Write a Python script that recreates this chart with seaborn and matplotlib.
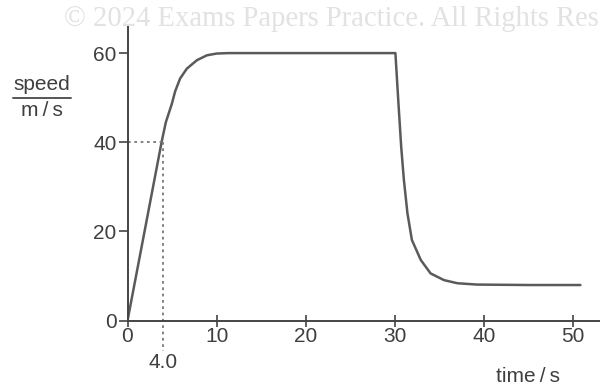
import matplotlib
matplotlib.use("Agg")
import matplotlib.pyplot as plt
import seaborn as sns
import pandas as pd

# Data
time_s = [0.0, 3.84, 4.3, 4.97, 5.34, 5.9, 6.65, 7.78, 8.9, 10.0, 11.3, 20.0, 30.05,
          30.4, 30.7, 31.0, 31.4, 31.9, 32.9, 34.0, 35.5, 37.0, 39.2, 45.0, 50.8]
speed_ms = [0.0, 40.2, 44.5, 48.6, 51.4, 54.3, 56.5, 58.4, 59.5, 59.9, 60.0, 60.0, 60.0,
            48.5, 39.0, 31.6, 24.1, 18.1, 13.6, 10.6, 9.1, 8.4, 8.1, 8.0, 8.0]
x_ticks = [0, 10, 20, 30, 40, 50]
y_ticks = [0, 20, 40, 60]
marked_time = 4.0
marked_speed = 40

df = pd.DataFrame({"time": time_s, "speed": speed_ms})

sns.set_theme(style="white")
plt.rcParams["font.family"] = ["Liberation Sans", "DejaVu Sans"]

TXT = "#3f3f3f"
FS = 15

fig = plt.figure(figsize=(6, 3.87), dpi=100)
ax = fig.add_axes([127.5 / 600, 66.3 / 387, 472.5 / 600, 295.7 / 387])

sns.lineplot(data=df, x="time", y="speed", ax=ax, color="#5a5a5a",
             linewidth=1.8, sort=False)

ax.set_xlim(0, 53)
ax.set_ylim(0, 66.3)
ax.set_xticks(x_ticks)
ax.set_yticks(y_ticks)
ax.set_xlabel("")
ax.set_ylabel("")

for s in ["top", "right"]:
    ax.spines[s].set_visible(False)
for s in ["left", "bottom"]:
    ax.spines[s].set_color("#444444")
    ax.spines[s].set_linewidth(1.4)

ax.tick_params(axis="y", direction="out", length=6.5, width=1.2,
               colors="#444444", labelsize=FS, labelcolor=TXT, pad=1.5, left=True)
ax.tick_params(axis="x", direction="inout", length=9, width=1.2,
               colors="#444444", labelsize=FS, labelcolor=TXT, pad=0, bottom=True)

# dotted guide lines
ax.plot([0, marked_time], [marked_speed, marked_speed], linestyle=(0, (1.5, 2)),
        color="#777777", linewidth=1.3)
ax.plot([marked_time, marked_time], [marked_speed, -6.8], linestyle=(0, (1.5, 2)),
        color="#777777", linewidth=1.3, clip_on=False)
ax.text(marked_time, -9.3, "4.0", ha="center", va="center", fontsize=FS,
        color=TXT, clip_on=False)

# axis labels
fig.text(42 / 600, 1 - 84 / 387, "speed", ha="center", va="center",
         fontsize=FS, color=TXT)
fig.text(42 / 600, 1 - 110 / 387, "m\u2009/\u2009s", ha="center", va="center",
         fontsize=FS, color=TXT)
fig.add_artist(plt.Line2D([13 / 600, 71 / 600], [1 - 97.5 / 387, 1 - 97.5 / 387],
                          color="#555555", linewidth=1.4))
fig.text(528 / 600, 1 - 376 / 387, "time\u2009/\u2009s", ha="center", va="center",
         fontsize=FS, color=TXT)

# watermark (as visible in the reference, cut at the right edge)
fig.text(599 / 600, 1 - 19 / 387, "© 2024 Exams Papers Practice. All Rights Res",
         ha="right", va="center", fontsize=20.6, color="#e2e2e2",
         family=["Liberation Serif", "DejaVu Serif"])

fig.savefig("out.png", dpi=100)
